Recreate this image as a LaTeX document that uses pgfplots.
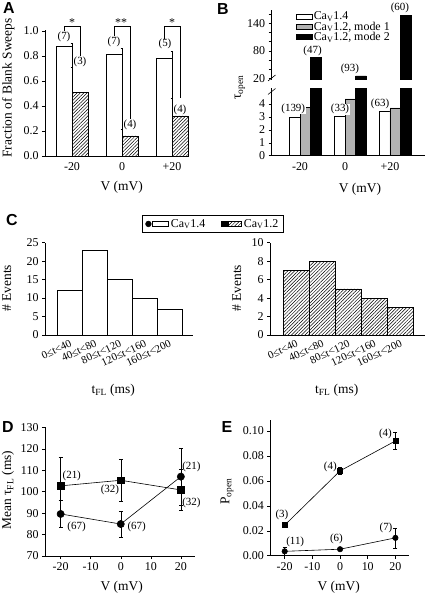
\documentclass[border=0pt]{standalone}
\usepackage{fontspec}
\setmainfont{Liberation Serif}
\newfontfamily\lsans{Liberation Sans}
\usepackage{pgfplots}
\pgfplotsset{compat=1.18}
\usetikzlibrary{patterns,patterns.meta}
\newcommand{\tk}{\fontsize{12}{12}\selectfont}
\newcommand{\lab}{\fontsize{13.5}{13.5}\selectfont}
\newcommand{\ann}{\fontsize{11}{11}\selectfont}
\tikzset{
 an/.style={font=\ann, inner sep=0.5pt, fill=white},
 hatch/.style={pattern={Lines[angle=45,distance=2.4pt,line width=0.5pt]}, pattern color=black},
}
\pgfplotsset{
 base/.style={scale only axis, anchor=south west, axis lines*=left, tick align=outside,
   major tick length=3bp, minor tick length=2bp,
   tick style={black, line width=0.5pt},
   axis line style={line width=0.6pt, black},
   tick label style={font=\tk},
   label style={font=\lab},
   /pgf/number format/assume math mode=true,
   xlabel style={anchor=center}, ylabel style={anchor=center},
   clip=false},
 eb/.style={error bars/.cd, y dir=both, y explicit, error mark options={rotate=90, mark size=2pt, line width=0.5pt}},
}
\begin{document}
\begin{tikzpicture}
\useasboundingbox (0,0) rectangle (427bp,596bp);
% ---------------- A ----------------
\begin{axis}[base, at={(45bp,440bp)}, width=143bp, height=126bp,
 xmin=-0.54, xmax=2.32, ymin=0, ymax=1.008,
 xtick={0,1,2}, xticklabels={-20,0,+20}, major x tick style={draw=none},
 ytick={0,0.2,0.4,0.6,0.8,1.0},
 yticklabel style={/pgf/number format/fixed, /pgf/number format/fixed zerofill, /pgf/number format/precision=1},
 xlabel={V (mV)}, ylabel={Fraction of Blank Sweeps},
 xlabel style={at={(axis description cs:0.536,-0.25)}},
 ylabel style={at={(axis description cs:-0.257,0.54)}},
]
\addplot[ybar, bar width=0.32, bar shift=-0.16, fill=white, draw=black, line width=0.6pt,
 error bars/.cd, y dir=plus, y explicit, error mark options={rotate=90, mark size=1.5pt, line width=0.5pt}]
 table[x=x, y=y, y error=e] {
 x y e
 0 0.875 0.03
 1 0.81 0.055
 2 0.78 0.06
};
\addplot[ybar, bar width=0.32, bar shift=0.16, hatch, draw=black, line width=0.6pt,
 error bars/.cd, y dir=plus, y explicit, error mark options={rotate=90, mark size=1.5pt, line width=0.5pt}]
 table[x=x, y=y, y error=e] {
 x y e
 0 0.51 0.20
 1 0.16 0.05
 2 0.32 0.14
};
\draw[line width=0.5pt] (axis cs:-0.16,0.955) |- (axis cs:0.16,1.034) -- (axis cs:0.16,0.71);
\draw[line width=0.5pt] (axis cs:0.84,0.915) |- (axis cs:1.16,1.034) -- (axis cs:1.16,0.21);
\draw[line width=0.5pt] (axis cs:1.84,0.894) |- (axis cs:2.16,1.034) -- (axis cs:2.16,0.46);
\node[font=\tk, anchor=base, inner sep=0pt] at (axis cs:0,1.036) {*};
\node[font=\tk, anchor=base, inner sep=0pt] at (axis cs:0.98,1.036) {**};
\node[font=\tk, anchor=base, inner sep=0pt] at (axis cs:2.0,1.036) {*};
\node[an] at (axis cs:-0.16,0.955) {(7)};
\node[an] at (axis cs:0.16,0.755) {(3)};
\node[an] at (axis cs:0.84,0.915) {(7)};
\node[an] at (axis cs:1.16,0.25) {(4)};
\node[an] at (axis cs:1.86,0.894) {(5)};
\node[an] at (axis cs:2.16,0.37) {(4)};
\end{axis}
% ---------------- B lower ----------------
\begin{axis}[base, at={(271.7bp,440.3bp)}, width=153.3bp, height=67.4bp,
 xmin=-0.629, xmax=2.778, ymin=0, ymax=5.22,
 xtick={0,1,2}, xticklabels={-20,0,+20}, major x tick style={draw=none},
 ytick={0,1,2,3,4},
 clip=true, clip mode=individual,
 xlabel={V (mV)}, ylabel={τ\textsubscript{open}},
 xlabel style={at={(axis description cs:0.576,-0.494)}},
 ylabel style={at={(axis description cs:-0.207,1.012)}},
]
\addplot[ybar, bar width=0.238, bar shift=-0.119, fill=white, draw=black, line width=0.6pt] coordinates {(0,3.0) (1,3.05) (2,3.4)};
\addplot[ybar, bar width=0.238, bar shift=0.119, fill=gray!60, draw=black, line width=0.6pt] coordinates {(0,3.75) (1,4.4) (2,3.7)};
\addplot[ybar, bar width=0.238, bar shift=0.357, fill=black, draw=black, line width=0.6pt] coordinates {(0,65) (1,25) (2,157)};
\node[an] at (axis cs:-0.15,3.65) {(139)};
\node[an] at (axis cs:0.889,3.6) {(33)};
\node[an] at (axis cs:1.78,4.05) {(63)};
\end{axis}
% ---------------- B upper ----------------
\begin{axis}[base, at={(271.7bp,516bp)}, width=153.3bp, height=70bp,
 xmin=-0.629, xmax=2.778, ymin=16.2, ymax=169,
 axis x line=none, axis y line*=left,
 ytick={20,40,60,80,100,120,140,160}, yticklabels={20,,,80,,,140,},
 clip=true, clip mode=individual,
 legend style={at={(axis description cs:0.159,0.99)}, anchor=north west, draw=none, fill=none,
   font=\fontsize{12}{12}\selectfont, inner sep=0pt, row sep=-1.5bp, nodes={inner sep=1pt}},
 legend cell align=left,
 legend image code/.code={\draw[#1, line width=0.5pt] (0bp,-2.6bp) rectangle (16bp,2.6bp);},
]
\addlegendimage{fill=white, draw=black}
\addlegendentry{Ca\textsubscript{V}1.4}
\addlegendimage{fill=gray!60, draw=black}
\addlegendentry{Ca\textsubscript{V}1.2, mode 1}
\addlegendimage{fill=black, draw=black}
\addlegendentry{Ca\textsubscript{V}1.2, mode 2}
\addplot[ybar, bar width=0.238, bar shift=0.357, fill=black, draw=black, line width=0.6pt, forget plot] coordinates {(0,65) (1,25) (2,157)};
\node[an] at (axis cs:0.28,79.5) {(47)};
\node[an] at (axis cs:1.11,39.6) {(93)};
\node[an] at (axis cs:2.22,172.7) {(60)};
\end{axis}
\draw[line width=0.6pt] (268bp,515bp) -- (275.5bp,521bp);
\draw[line width=0.6pt] (268bp,501.5bp) -- (275.5bp,507.5bp);
% ---------------- C left ----------------
\begin{axis}[base, at={(45bp,261bp)}, width=148bp, height=92.3bp,
 xmin=-1, xmax=4.95, ymin=0, ymax=25,
 xtick={0,1,2,3,4}, xticklabels={0≤t<40,40≤t<80,80≤t<120,120≤t<160,160≤t<200},
 major x tick style={draw=none},
 xticklabel style={rotate=25, anchor=north east, font=\fontsize{11}{11}\selectfont, inner sep=1pt},
 ytick={0,5,10,15,20,25},
 xlabel={t\textsubscript{FL} (ms)}, ylabel={\# Events},
 xlabel style={at={(axis description cs:0.461,-0.595)}},
 ylabel style={at={(axis description cs:-0.259,0.506)}},
 legend style={at={(axis description cs:1.134,1.203)}, anchor=center, draw=black, line width=0.6pt,
   font=\fontsize{12}{12}\selectfont, inner xsep=3bp, inner ysep=1.5bp},
 legend columns=2,
 legend style={/tikz/every even column/.append style={column sep=14bp}},
]
\addlegendimage{legend image code/.code={\fill[black] (2.8bp,0bp) circle (2.8bp); \draw[fill=white, line width=0.5pt] (7bp,-2.4bp) rectangle (23bp,2.4bp);}}
\addlegendentry{Ca\textsubscript{V}1.4}
\addlegendimage{legend image code/.code={\fill[black] (0bp,-2.6bp) rectangle (5.2bp,2.6bp); \draw[hatch, line width=0.5pt] (6.5bp,-2.4bp) rectangle (20bp,2.4bp);}}
\addlegendentry{Ca\textsubscript{V}1.2}
\addplot[ybar, bar width=1, fill=white, draw=black, line width=0.6pt, forget plot] coordinates {(0,12) (1,23) (2,15) (3,10) (4,7)};
\end{axis}
% ---------------- C right ----------------
\begin{axis}[base, at={(270bp,261bp)}, width=155bp, height=92.3bp,
 xmin=-1, xmax=4.95, ymin=0, ymax=10,
 xtick={0,1,2,3,4}, xticklabels={0≤t<40,40≤t<80,80≤t<120,120≤t<160,160≤t<200},
 major x tick style={draw=none},
 xticklabel style={rotate=25, anchor=north east, font=\fontsize{11}{11}\selectfont, inner sep=1pt},
 ytick={0,2,4,6,8,10},
 xlabel={t\textsubscript{FL} (ms)}, ylabel={\# Events},
 xlabel style={at={(axis description cs:0.43,-0.595)}},
 ylabel style={at={(axis description cs:-0.215,0.506)}},
]
\addplot[ybar, bar width=1, hatch, draw=black, line width=0.6pt] coordinates {(0,7) (1,8) (2,5) (3,4) (4,3)};
\end{axis}
% ---------------- D ----------------
\begin{axis}[base, at={(45bp,40bp)}, width=150bp, height=128.7bp,
 xmin=-25.2, xmax=24.7, ymin=70, ymax=130,
 xtick={-20,-10,0,10,20}, ytick={70,80,90,100,110,120,130},
 xlabel={V (mV)}, ylabel={Mean τ\textsubscript{FL} (ms)},
 xlabel style={at={(axis description cs:0.511,-0.246)}},
 ylabel style={at={(axis description cs:-0.247,0.513)}},
]
\addplot[black, line width=0.6pt, mark=square*, mark size=3.3bp, eb] table[x=x,y=y,y error=e]{
x y e
-20 102.7 13.2
0 105.3 9.7
20 100.8 9.7
};
\addplot[black, line width=0.6pt, mark=*, mark size=3.6bp, eb] table[x=x,y=y,y error=e]{
x y e
-20 89.6 6.2
0 84.9 6.1
20 107.0 13.2
};
\node[an, fill=none] at (axis cs:-16.3,107.3) {(21)};
\node[an, fill=none] at (axis cs:-14.7,83.4) {(67)};
\node[an, fill=none] at (axis cs:-3.6,100.6) {(32)};
\node[an, fill=none] at (axis cs:5.3,83.4) {(67)};
\node[an, fill=none] at (axis cs:23.5,111.6) {(21)};
\node[an, fill=none] at (axis cs:23.5,94.6) {(32)};
\end{axis}
% ---------------- E ----------------
\begin{axis}[base, at={(270.3bp,40.3bp)}, width=138.4bp, height=135.7bp,
 xmin=-25.2, xmax=24.8, ymin=0, ymax=0.1088,
 xtick={-20,-10,0,10,20}, ytick={0,0.02,0.04,0.06,0.08,0.10},
 yticklabel style={/pgf/number format/fixed, /pgf/number format/fixed zerofill, /pgf/number format/precision=2},
 xlabel={V (mV)}, ylabel={P\textsubscript{open}},
 xlabel style={at={(axis description cs:0.494,-0.236)}},
 ylabel style={at={(axis description cs:-0.313,0.472)}},
]
\addplot[black, line width=0.6pt, mark=square*, mark size=2.5bp, eb] table[x=x,y=y,y error=e]{
x y e
-20 0.0245 0.0008
0 0.068 0.003
20 0.092 0.007
};
\addplot[black, line width=0.6pt, mark=*, mark size=2.7bp, eb] table[x=x,y=y,y error=e]{
x y e
-20 0.0035 0.003
0 0.0052 0.001
20 0.0143 0.008
};
\node[an, fill=none] at (axis cs:-21,0.0326) {(3)};
\node[an, fill=none] at (axis cs:-3.5,0.0714) {(4)};
\node[an, fill=none] at (axis cs:16.4,0.0974) {(4)};
\node[an, fill=none] at (axis cs:-16.2,0.0112) {(11)};
\node[an, fill=none] at (axis cs:-1.3,0.0134) {(6)};
\node[an, fill=none] at (axis cs:16.6,0.022) {(7)};
\end{axis}
% ---------------- panel letters ----------------
\node[font=\lsans\bfseries\fontsize{16}{16}\selectfont] at (9bp,588bp) {A};
\node[font=\lsans\bfseries\fontsize{16}{16}\selectfont] at (223bp,587bp) {B};
\node[font=\lsans\bfseries\fontsize{16}{16}\selectfont] at (12bp,376bp) {C};
\node[font=\lsans\bfseries\fontsize{16}{16}\selectfont] at (8bp,169bp) {D};
\node[font=\lsans\bfseries\fontsize{16}{16}\selectfont] at (227bp,169bp) {E};
\end{tikzpicture}
\end{document}
